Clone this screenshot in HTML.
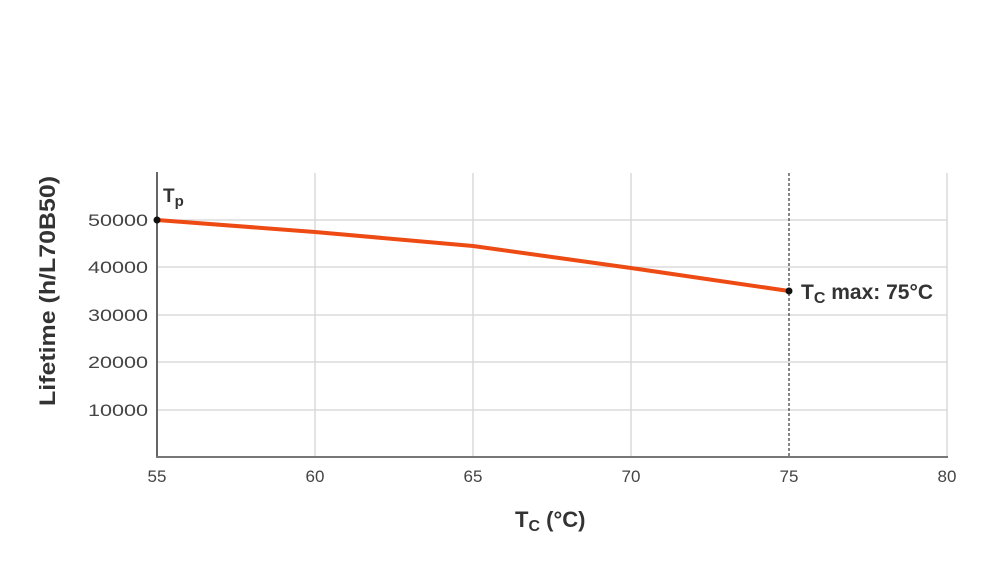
<!DOCTYPE html>
<html><head><style>html,body{margin:0;padding:0;background:#fff;}svg{display:block}</style></head>
<body>
<svg width="1000" height="584" viewBox="0 0 1000 584" xmlns="http://www.w3.org/2000/svg" font-family="Liberation Sans, sans-serif">
<g stroke="#d4d4d4" stroke-width="1.3">
<line x1="157" y1="220" x2="947" y2="220"/>
<line x1="157" y1="267" x2="947" y2="267"/>
<line x1="157" y1="315" x2="947" y2="315"/>
<line x1="157" y1="362" x2="947" y2="362"/>
<line x1="157" y1="410" x2="947" y2="410"/>
<line x1="315" y1="173" x2="315" y2="457"/>
<line x1="473" y1="173" x2="473" y2="457"/>
<line x1="631" y1="173" x2="631" y2="457"/>
<line x1="947" y1="173" x2="947" y2="457"/>
</g>
<line x1="789" y1="173" x2="789" y2="457" stroke="#444" stroke-width="1.3" stroke-dasharray="3,2"/>
<line x1="157" y1="172" x2="157" y2="457" stroke="#666" stroke-width="2"/>
<line x1="156" y1="457" x2="948" y2="457" stroke="#777" stroke-width="2"/>
<polyline points="157,220 315,232 473,246 631,268 789,291" fill="none" stroke="#ee4a14" stroke-width="4" stroke-linejoin="round"/>
<circle cx="157" cy="220" r="3.5" fill="#111"/>
<circle cx="789" cy="291" r="3.5" fill="#111"/>
<g font-size="17" fill="#444" text-anchor="end">
<text x="148" y="226" textLength="60" lengthAdjust="spacingAndGlyphs">50000</text>
<text x="148" y="273" textLength="60" lengthAdjust="spacingAndGlyphs">40000</text>
<text x="148" y="321" textLength="60" lengthAdjust="spacingAndGlyphs">30000</text>
<text x="148" y="368" textLength="60" lengthAdjust="spacingAndGlyphs">20000</text>
<text x="148" y="416" textLength="60" lengthAdjust="spacingAndGlyphs">10000</text>
</g>
<g font-size="17" fill="#444" text-anchor="middle">
<text x="157" y="482">55</text>
<text x="315" y="482">60</text>
<text x="473" y="482">65</text>
<text x="631" y="482">70</text>
<text x="789" y="482">75</text>
<text x="947" y="482">80</text>
</g>
<g font-weight="bold" fill="#333">
<text x="163" y="202" font-size="19">T<tspan font-size="15" dy="4">p</tspan></text>
<text x="801" y="299" font-size="21">T<tspan font-size="16" dy="4">C</tspan><tspan dy="-4"> max: 75°C</tspan></text>
<text x="515" y="527" font-size="22">T<tspan font-size="16" dy="4">C</tspan><tspan dy="-4"> (°C)</tspan></text>
<text transform="translate(55,291) rotate(-90)" text-anchor="middle" font-size="22" textLength="230" lengthAdjust="spacingAndGlyphs">Lifetime (h/L70B50)</text>
</g>
</svg>
</body></html>
